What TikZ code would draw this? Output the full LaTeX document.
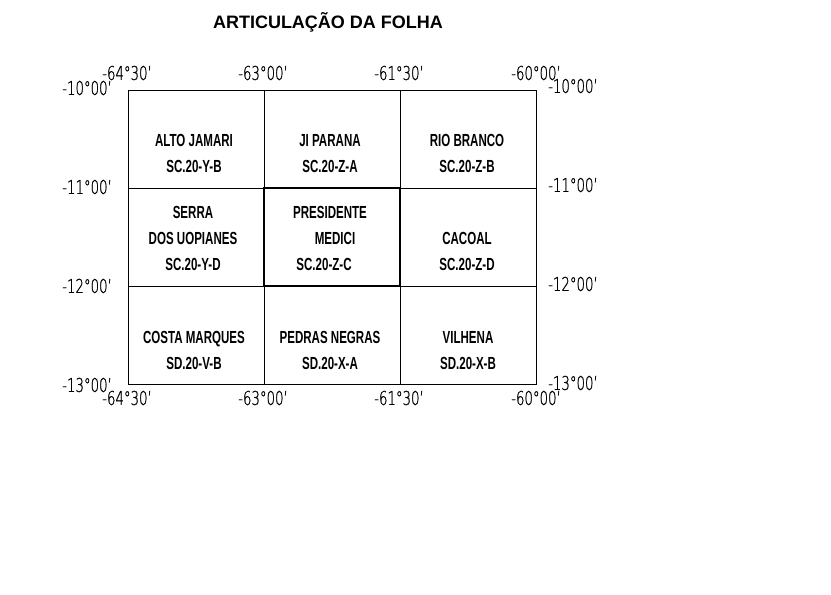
\documentclass[tikz,border=0pt]{standalone}
\usepackage{fontspec}
\newfontfamily\titlefont{Liberation Sans}
\newfontfamily\cellfont[FakeStretch=0.66]{Liberation Sans}
\newfontfamily\coordfont[FakeStretch=0.7,FakeBold=0.8]{DejaVu Sans ExtraLight}
\tikzset{
  sheet/.style={font=\cellfont\bfseries\fontsize{17.5}{26}\selectfont, align=center, inner sep=0pt,
    execute at begin node=\strut, execute at end node=\strut},
  coord/.style={font=\coordfont\fontsize{19}{20}\selectfont, inner sep=0pt}
}
\begin{document}
\begin{tikzpicture}[x=1pt,y=-1pt]
	\useasboundingbox (0,0) rectangle (831,595);

	% title
	\node[font=\titlefont\bfseries\fontsize{18}{20}\selectfont] (title) at (328,22) {ARTICULAÇÃO DA FOLHA};

	% grid
	\draw[line width=0.8pt] (128,90) rectangle (536,384);
	\draw[line width=0.8pt] (264,90) -- (264,384);
	\draw[line width=0.8pt] (400,90) -- (400,384);
	\draw[line width=0.8pt] (128,188) -- (536,188);
	\draw[line width=0.8pt] (128,286) -- (536,286);

	% folha
	\draw[line width=2pt] (264,188) rectangle (400,286);

	% names
	\node[sheet] (altojamari) at (194,157) {ALTO JAMARI\\SC.20-Y-B};
	\node[sheet] (jiparana) at (330,157) {JI PARANA\\SC.20-Z-A};
	\node[sheet] (riobranco) at (467,157) {RIO BRANCO\\SC.20-Z-B};
	\node[sheet] (serra) at (193,242) {SERRA\\DOS UOPIANES\\SC.20-Y-D};
	\node[sheet] (presidente) at (330,242) {PRESIDENTE\\\hspace*{10pt}MEDICI\\SC.20-Z-C\hspace*{12pt}};
	\node[sheet] (cacoal) at (467,255) {CACOAL\\SC.20-Z-D};
	\node[sheet] (costamarques) at (194,354) {COSTA MARQUES\\SD.20-V-B};
	\node[sheet] (pedrasnegras) at (330,354) {PEDRAS NEGRAS\\SD.20-X-A};
	\node[sheet] (vilhena) at (468,354) {VILHENA\\SD.20-X-B};

	% longitude
	\foreach \x/\lon [count=\i] in {127/-64°30’,263/-63°00’,399/-61°30’,536/-60°00’} {
		\node[coord] (lontop\i) at (\x,73) {\lon};
		\node[coord] (lonbot\i) at (\x,398) {\lon};
	}

	% latitude
	\foreach \y/\lat [count=\i] in {88/-10°00’,187/-11°00’,286/-12°00’,385/-13°00’} {
		\node[coord, anchor=east] (latleft\i) at (112,\y) {\lat};
		\node[coord, anchor=west] (latright\i) at (548,\y-2) {\lat};
	}

\end{tikzpicture}
\end{document}
